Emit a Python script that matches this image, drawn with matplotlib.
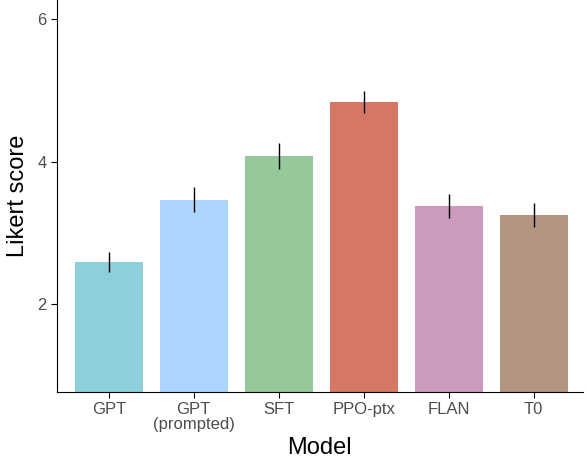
import matplotlib
matplotlib.use("Agg")
import matplotlib.pyplot as plt

plt.rcParams['font.family'] = ['Liberation Sans', 'DejaVu Sans']

models = ["GPT", "GPT\n(prompted)", "SFT", "PPO-ptx", "FLAN", "T0"]
scores = [2.60, 3.47, 4.08, 4.84, 3.38, 3.25]
errors = [0.14, 0.17, 0.18, 0.16, 0.17, 0.17]
colors = ["#8ecfdc", "#acd6fd", "#97c89c", "#d47765", "#cc9abd", "#b39481"]

fig = plt.figure(figsize=(5.87, 4.74), dpi=100)
ax = fig.add_axes([0.097, 0.173, 0.896, 0.827])

x = range(len(models))
ax.bar(x, scores, width=0.8, color=colors)
ax.errorbar(x, scores, yerr=errors, fmt="none", ecolor="black", elinewidth=1)

ax.set_xlim(-0.61, 5.58)
ax.set_ylim(0.77, 6.27)
ax.set_yticks([2, 4, 6])
ax.set_xticks(list(x))
ax.set_xticklabels(models, linespacing=0.95)
ax.tick_params(labelsize=12, colors="#4d4d4d", length=4)
ax.tick_params(axis="both", color="black")
ax.set_xlabel("Model", fontsize=17, labelpad=4)
ax.set_ylabel("Likert score", fontsize=17, labelpad=6)
for s in ["top", "right"]:
    ax.spines[s].set_visible(False)

fig.savefig("out.png", dpi=100)
